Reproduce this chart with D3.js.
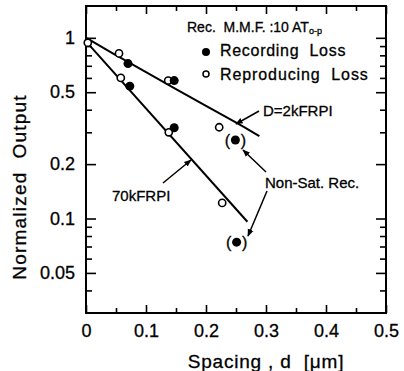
<!DOCTYPE html>
<html>
<head>
<meta charset="utf-8">
<script src="https://cdn.jsdelivr.net/npm/d3@7"></script>
<style>
  body { margin: 0; background: #fff; }
  svg text { font-family: "Liberation Sans", Arial, sans-serif; fill: #000; stroke: #000; stroke-width: 0.3px; white-space: pre; }
</style>
</head>
<body>
<div id="chart"></div>
<script>
// data
const recSpacing = [0.070, 0.073, 0.147, 0.147];
const recOutput = [0.72, 0.54, 0.58, 0.318];
const recParenSpacing = [0.249, 0.251];      // non-saturated recording, drawn as (•)
const recParenOutput = [0.272, 0.074];
const repSpacing = [0.003, 0.055, 0.058, 0.137, 0.138, 0.222, 0.227];
const repOutput = [0.94, 0.82, 0.60, 0.58, 0.30, 0.32, 0.122];
const curve2kSpacing = [0, 0.05, 0.10, 0.15, 0.20, 0.25, 0.289];
const curve2kOutput = [1.0, 0.80, 0.645, 0.52, 0.42, 0.34, 0.286];
const line70kSpacing = [0, 0.269];
const line70kOutput = [0.955, 0.096];
const xTicks = [0, 0.1, 0.2, 0.3, 0.4, 0.5];
const xMinor = [0.05, 0.15, 0.25, 0.35, 0.45];
const yTicks = [1, 0.5, 0.2, 0.1, 0.05];
const yMinor = [0.9, 0.8, 0.7, 0.6, 0.4, 0.3, 0.09, 0.08, 0.07, 0.06, 0.04];

const W = 404, H = 371;
const margin = { top: 6, left: 86, right: 18, bottom: 58 };
const width = W - margin.left - margin.right;
const height = H - margin.top - margin.bottom;

const svg = d3.select('#chart').append('svg')
    .attr('width', W).attr('height', H);

svg.append('defs').append('marker')
    .attr('id', 'arrow')
    .attr('viewBox', '0 0 10 10')
    .attr('refX', 9).attr('refY', 5)
    .attr('markerWidth', 5).attr('markerHeight', 5)
    .attr('orient', 'auto')
    .append('path').attr('d', 'M0,1 L10,5 L0,9 Z').attr('fill', '#000');

const g = svg.append('g').attr('transform', `translate(${margin.left},${margin.top})`);

const x = d3.scaleLinear().domain([0, 0.5]).range([0, width]);
const y = d3.scaleLog().domain([0.03, 1.5]).range([height, 0]);

function styleAxis(sel) {
    sel.select('.domain').remove();
    sel.selectAll('line').attr('stroke', '#000').attr('stroke-width', 1.6);
}

// bottom axis
g.append('g').attr('transform', `translate(0,${height})`)
    .call(d3.axisBottom(x).tickValues(xTicks).tickSizeInner(-8).tickSizeOuter(0)
        .tickPadding(11).tickFormat(d => d === 0 ? '0' : d3.format('.1f')(d)))
    .call(styleAxis);
g.append('g').attr('transform', `translate(0,${height})`)
    .call(d3.axisBottom(x).tickValues(xMinor).tickSize(-5).tickFormat(''))
    .call(styleAxis);
// top axis
g.append('g')
    .call(d3.axisTop(x).tickValues(xTicks).tickSize(-8).tickFormat(''))
    .call(styleAxis);
g.append('g')
    .call(d3.axisTop(x).tickValues(xMinor).tickSize(-5).tickFormat(''))
    .call(styleAxis);
// left axis
g.append('g')
    .call(d3.axisLeft(y).tickValues(yTicks).tickSizeInner(-10).tickSizeOuter(0)
        .tickPadding(11).tickFormat(d => String(d)))
    .call(styleAxis);
g.append('g')
    .call(d3.axisLeft(y).tickValues(yMinor).tickSize(-6).tickFormat(''))
    .call(styleAxis);
// right axis
g.append('g').attr('transform', `translate(${width},0)`)
    .call(d3.axisRight(y).tickValues(yTicks).tickSize(-10).tickFormat(''))
    .call(styleAxis);
g.append('g').attr('transform', `translate(${width},0)`)
    .call(d3.axisRight(y).tickValues(yMinor).tickSize(-6).tickFormat(''))
    .call(styleAxis);

g.selectAll('.tick text').style('font-size', '18px');

// frame
g.append('rect')
    .attr('width', width).attr('height', height)
    .attr('fill', 'none').attr('stroke', '#000').attr('stroke-width', 2);

// fitted lines
g.append('path')
    .datum(d3.zip(curve2kSpacing, curve2kOutput))
    .attr('d', d3.line().x(d => x(d[0])).y(d => y(d[1])).curve(d3.curveBasis))
    .attr('fill', 'none').attr('stroke', '#000').attr('stroke-width', 2);
g.append('path')
    .datum(d3.zip(line70kSpacing, line70kOutput))
    .attr('d', d3.line().x(d => x(d[0])).y(d => y(d[1])))
    .attr('fill', 'none').attr('stroke', '#000').attr('stroke-width', 2);

// points
g.selectAll('.rep').data(d3.zip(repSpacing, repOutput)).enter()
    .append('circle').attr('class', 'rep')
    .attr('cx', d => x(d[0])).attr('cy', d => y(d[1])).attr('r', 3.6)
    .attr('fill', '#fff').attr('stroke', '#000').attr('stroke-width', 1.6);
g.selectAll('.rec').data(d3.zip(recSpacing, recOutput)).enter()
    .append('circle').attr('class', 'rec')
    .attr('cx', d => x(d[0])).attr('cy', d => y(d[1])).attr('r', 4.5)
    .attr('fill', '#000');
const paren = g.selectAll('.recp').data(d3.zip(recParenSpacing, recParenOutput)).enter()
    .append('g').attr('class', 'recp')
    .attr('transform', d => `translate(${x(d[0])},${y(d[1])})`);
paren.append('circle').attr('r', 4.5).attr('fill', '#000');
paren.append('text').attr('x', -8).attr('y', 6).attr('text-anchor', 'middle')
    .style('font-size', '16px').text('(');
paren.append('text').attr('x', 8).attr('y', 6).attr('text-anchor', 'middle')
    .style('font-size', '16px').text(')');

// legend
const legend = svg.append('g');
const mmf = legend.append('text').attr('x', 187).attr('y', 32).style('font-size', '14px');
mmf.append('tspan').text('Rec.  M.M.F. :10 AT');
mmf.append('tspan').attr('dy', 2).style('font-size', '9px').text('o-p');
legend.append('circle').attr('cx', 206).attr('cy', 52).attr('r', 4).attr('fill', '#000');
legend.append('text').attr('x', 220).attr('y', 56).style('font-size', '16px')
    .style('letter-spacing', '0.7px').text('Recording  Loss');
legend.append('circle').attr('cx', 206).attr('cy', 74).attr('r', 3)
    .attr('fill', '#fff').attr('stroke', '#000').attr('stroke-width', 1.5);
legend.append('text').attr('x', 220).attr('y', 80).style('font-size', '16px')
    .style('letter-spacing', '0.9px').text('Reproducing  Loss');

// annotations with arrows
function arrow(x1, y1, x2, y2) {
    svg.append('line').attr('x1', x1).attr('y1', y1).attr('x2', x2).attr('y2', y2)
        .attr('stroke', '#000').attr('stroke-width', 1.5)
        .attr('marker-end', 'url(#arrow)');
}
svg.append('text').attr('x', 263).attr('y', 116).style('font-size', '15px').text('D=2kFRPI');
arrow(259, 111, 236, 124);
svg.append('text').attr('x', 265).attr('y', 188).style('font-size', '15px').text('Non-Sat. Rec.');
arrow(266, 172, 243, 150);
arrow(267, 191, 248, 236);
svg.append('text').attr('x', 112).attr('y', 201).style('font-size', '15px').text('70kFRPI');
arrow(163, 183, 191, 160);

// axis titles
svg.append('text').attr('x', 266).attr('y', 368).attr('text-anchor', 'middle')
    .style('font-size', '19px').style('letter-spacing', '0.8px').text('Spacing , d  [μm]');
svg.append('text')
    .attr('transform', 'translate(26,187) rotate(-90)')
    .attr('text-anchor', 'middle')
    .style('font-size', '19px').style('letter-spacing', '1.2px').text('Normalized  Output');
</script>
</body>
</html>
